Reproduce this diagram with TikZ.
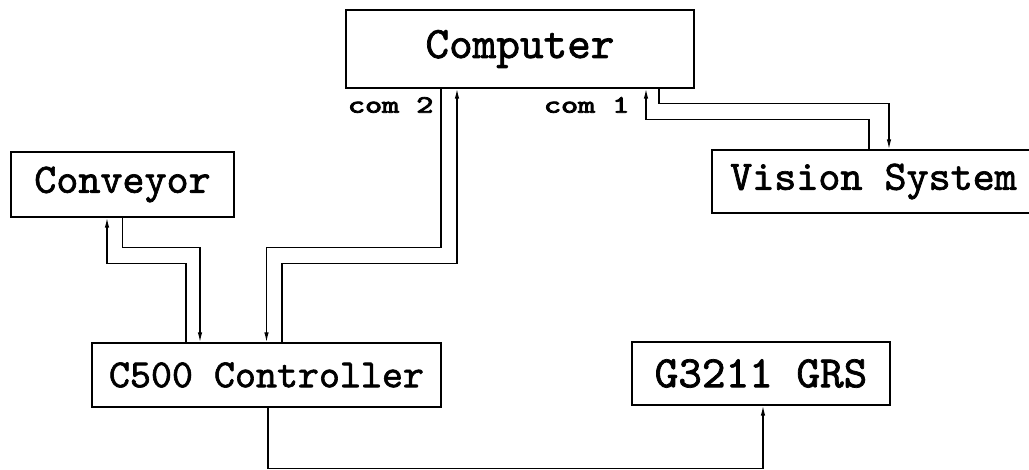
\documentclass[tikz,border=0pt]{standalone}
\usepackage{fontspec}
\usetikzlibrary{arrows.meta}
% slab-serif typewriter face, thickened a little for the box captions
\newfontfamily\boxfont{lmmono10-regular.otf}[FakeBold=1.6]
\newfontfamily\portfont{lmmono10-regular.otf}[FakeBold=3.2]
\begin{document}
\begin{tikzpicture}[
  x=1pt, y=-1pt,
  line width=1.3pt,
  box/.style={draw, line width=1.3pt, inner sep=0pt, font=\fontsize{42}{42}\selectfont\boxfont},
  portlabel/.style={inner sep=0pt, font=\fontsize{25}{25}\selectfont\portfont},
  link/.style={line width=1.3pt},
  tip/.style={-{Latex[length=10pt,width=4.5pt]}},
  tipback/.style={{Latex[length=10pt,width=4.5pt]}-}
]
\useasboundingbox (0,0) rectangle (1029,470);

% units
\node[box, minimum width=348pt, minimum height=78pt, font=\fontsize{45}{45}\selectfont\boxfont] (comp) at (520,49) {Computer};
\node[box, minimum width=223pt, minimum height=65pt] (conv) at (122.5,184.5) {Conveyor};
% this box runs on past the right margin; the strut keeps its caption left of centre
\node[box, minimum width=360pt, minimum height=63pt] (vis) at (892,181.5) {Vision System\rule{37pt}{0pt}};
\node[box, minimum width=349pt, minimum height=64pt, font=\fontsize{40}{40}\selectfont\boxfont] (ctrl) at (266.5,375) {C500 Controller};
\node[box, minimum width=258pt, minimum height=63pt, font=\fontsize{45}{45}\selectfont\boxfont] (grs) at (761,373.5) {G3211 GRS};

% serial port names
\node[portlabel, anchor=east] (com2) at (434,105) {\scalebox{1.3}[1]{com 2}};
\node[portlabel, anchor=east] (com1) at (630,105) {\scalebox{1.3}[1]{com 1}};

% conveyor <-> controller
\draw[link, tipback] ([xshift=-15.5]conv.south) -- ++(0,46) -| ([xshift=-80.5]ctrl.north);
\draw[link, tip] (conv.south) -- ++(0,30) -| ([xshift=-66.5]ctrl.north);

% computer (com 2) <-> controller
\draw[link, tip] ([xshift=-79]comp.south) -- ++(0,159) -| (ctrl.north);
\draw[link, tipback] ([xshift=-63]comp.south) -- ++(0,175) -| ([xshift=15.5]ctrl.north);

% computer (com 1) <-> vision system
\draw[link, tipback] ([xshift=126]comp.south) -- ++(0,31) -| ([xshift=-23]vis.north);
\draw[link, tip] ([xshift=139]comp.south) -- ++(0,15) -| ([xshift=-3]vis.north);

% controller -> gripper
\draw[link, tip] ([xshift=1.5]ctrl.south) -- ++(0,61) -| ([xshift=2]grs.south);
\end{tikzpicture}
\end{document}
